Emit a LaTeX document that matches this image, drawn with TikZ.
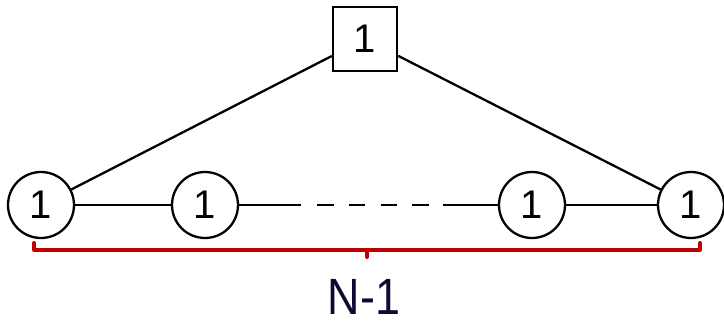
\documentclass[tikz,border=0pt]{standalone}
\usepackage{fontspec}
\setmainfont{Liberation Sans}
\definecolor{bracketred}{RGB}{192,0,0}
\definecolor{labelnavy}{RGB}{10,10,50}
\begin{document}
\begin{tikzpicture}[x=1pt,y=-1pt,
  nd/.style={circle,draw,line width=2.3pt,minimum size=66pt,inner sep=0pt,font=\fontsize{40}{40}\selectfont},
  sq/.style={rectangle,draw,line width=2.3pt,minimum size=64pt,inner sep=0pt,font=\fontsize{40}{40}\selectfont},
  ln/.style={line width=2.3pt},
  brk/.style={draw=bracketred,line width=4pt,line cap=round,line join=round}]
\useasboundingbox (0,0) rectangle (724,322);
\node[nd] (c1) at (41,205) {1};
\node[nd] (c2) at (205,205) {1};
\node[nd] (c3) at (532,205) {1};
\node[nd] (c4) at (691,205) {1};
\node[sq] (top) at (365,39) {1};
\draw[ln] (top) -- (c1);
\draw[ln] (top) -- (c4);
\draw[ln] (c1) -- (c2);
\coordinate (d1) at (301,205);
\coordinate (d2) at (317,205);
\coordinate (d3) at (429,205);
\coordinate (d4) at (443,205);
\draw[ln] (c2) -- (d1);
\draw[ln,dash pattern=on 16.5pt off 15.3pt] (d2) -- (d3);
\draw[ln] (d4) -- (c3);
\draw[ln] (c3) -- (c4);
\coordinate (bl) at (34,243);
\coordinate (brr) at (700,243);
\coordinate (bm) at (367,250);
\coordinate (bt) at (367,257);
\draw[brk] (bl) |- (bm) -| (brr);
\draw[brk] (bm) -- (bt);
\node[text=labelnavy,font=\fontsize{51}{51}\selectfont,inner sep=0pt] (lbl) at (364,297) {\scalebox{0.88}[1]{N-1}};
\end{tikzpicture}
\end{document}
